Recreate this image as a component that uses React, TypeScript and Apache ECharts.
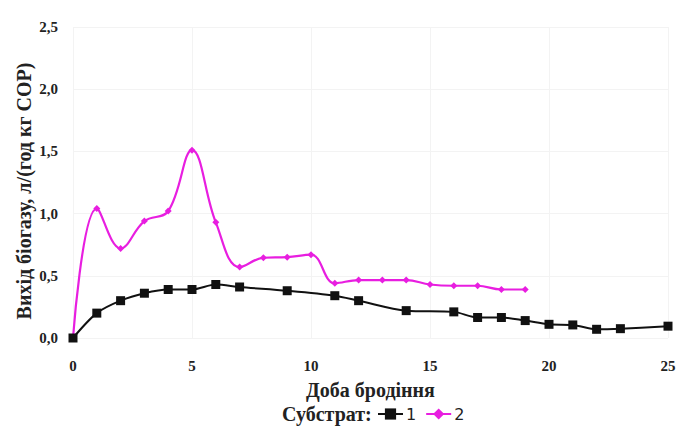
import React, { useEffect, useRef } from "react";
import * as echarts from "echarts";

const days1 = [0, 1, 2, 3, 4, 5, 6, 7, 9, 11, 12, 14, 16, 17, 18, 19, 20, 21, 22, 23, 25];
const yield1 = [0, 0.2, 0.3, 0.36, 0.39, 0.39, 0.43, 0.41, 0.38, 0.34, 0.3, 0.22, 0.21, 0.165, 0.165, 0.14, 0.11, 0.105, 0.07, 0.075, 0.095];
const days2 = [0, 1, 2, 3, 4, 5, 6, 7, 8, 9, 10, 11, 12, 13, 14, 15, 16, 17, 18, 19];
const yield2 = [0, 1.04, 0.72, 0.94, 1.02, 1.51, 0.93, 0.57, 0.645, 0.65, 0.67, 0.44, 0.466, 0.466, 0.466, 0.43, 0.42, 0.42, 0.39, 0.39];
const seriesNames = ["1", "2"];
const xTitle = "Доба бродіння";
const yTitle = "Вихід біогазу, л/(год кг СОР)";
const legendTitle = "Субстрат:";

const serif = "Liberation Serif";

export default function App() {
  const ref = useRef<HTMLDivElement>(null);
  useEffect(() => {
    const chart = echarts.init(ref.current!, null, { renderer: "svg" });
    chart.setOption({
      animation: false,
      backgroundColor: "#ffffff",
      grid: { left: 73, right: 13, top: 27, bottom: 90, containLabel: false },
      xAxis: {
        type: "value",
        min: 0,
        max: 25,
        interval: 5,
        name: xTitle,
        nameLocation: "middle",
        nameGap: 42,
        nameTextStyle: { fontFamily: serif, fontWeight: "bold", fontSize: 20, color: "#222" },
        axisLine: { show: false },
        axisTick: { show: false },
        axisLabel: { fontFamily: serif, fontWeight: "bold", fontSize: 15, color: "#222", margin: 20 },
        splitLine: { show: true, lineStyle: { color: "#f3f3f3", width: 1 } },
      },
      yAxis: {
        type: "value",
        min: 0,
        max: 2.5,
        interval: 0.5,
        axisLine: { show: false },
        axisTick: { show: false },
        axisLabel: {
          fontFamily: serif,
          fontWeight: "bold",
          fontSize: 15,
          color: "#222",
          margin: 15,
          formatter: (v: number) => v.toFixed(1).replace(".", ","),
        },
        splitLine: { show: true, lineStyle: { color: "#f3f3f3", width: 1 } },
      },
      legend: {
        left: 377,
        top: 406,
        padding: 0,
        itemWidth: 25,
        itemHeight: 14,
        itemGap: 9,
        textStyle: { fontFamily: "DejaVu Sans", fontSize: 16, color: "#222", padding: [2, 0, 0, -2] },
        data: seriesNames,
      },
      graphic: [
        {
          type: "text",
          x: 282,
          y: 414,
          style: { text: legendTitle, font: `bold 20px ${serif}`, fill: "#222", verticalAlign: "middle", align: "left" },
        },
        {
          type: "text",
          x: 24,
          y: 191,
          rotation: Math.PI / 2,
          style: { text: yTitle, font: `bold 20px ${serif}`, fill: "#222", verticalAlign: "middle", align: "center" },
        },
      ],
      series: [
        {
          name: seriesNames[0],
          type: "line",
          data: days1.map((d, i) => [d, yield1[i]]),
          smooth: 0.3,
          symbol: "rect",
          symbolSize: 9,
          z: 3,
          lineStyle: { color: "#111", width: 2 },
          itemStyle: { color: "#111" },
        },
        {
          name: seriesNames[1],
          type: "line",
          data: days2.map((d, i) => [d, yield2[i]]),
          smooth: 0.4,
          symbol: "diamond",
          symbolSize: 7,
          z: 2,
          lineStyle: { color: "#e81ee0", width: 2.2 },
          itemStyle: { color: "#e81ee0" },
        },
      ],
    });
    return () => chart.dispose();
  }, []);
  return <div ref={ref} style={{ width: 681, height: 428, position: "absolute", left: 0, top: 0 }} />;
}
